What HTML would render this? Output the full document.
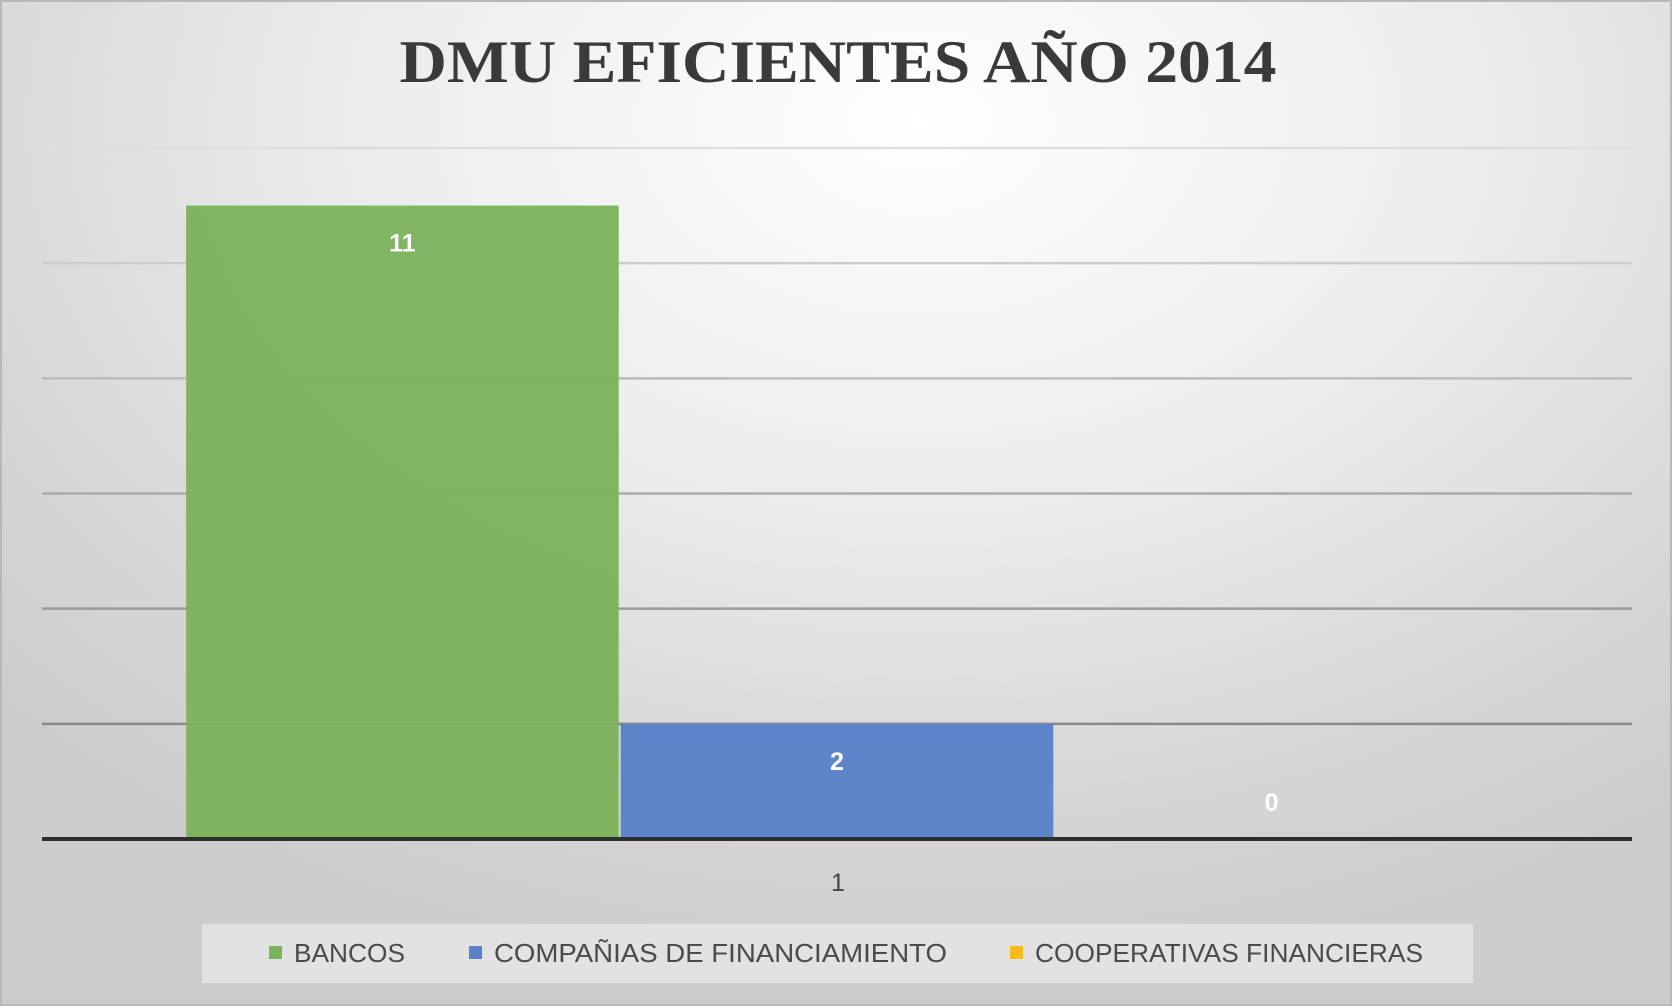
<!DOCTYPE html>
<html><head><meta charset="utf-8"><style>
html,body{margin:0;padding:0;}
body{width:1672px;height:1006px;overflow:hidden;}
#chart{position:absolute;left:0;top:0;width:1672px;height:1006px;box-sizing:border-box;border:2px solid #b8b8b8;
background:radial-gradient(ellipse 75% 85% at 55% 12%, #ffffff 0%, #ececec 45%, #d6d6d6 80%, #cdcdcd 100%);}
svg{position:absolute;left:0;top:0;}
</style></head><body>
<div id="chart">
<svg id="svg" width="1672" height="1006">
<text x="836" y="80" text-anchor="middle" font-family="Liberation Serif, serif" font-weight="bold" font-size="60" fill="#3a3a3a" textLength="877" lengthAdjust="spacingAndGlyphs">DMU EFICIENTES AÑO 2014</text>
<g id="grid"></g>
<g id="bars"></g>
<line x1="40" y1="837" x2="1630" y2="837" stroke="#2e2e2e" stroke-width="4"/>
<text x="836" y="889" text-anchor="middle" font-family="Liberation Sans, sans-serif" font-size="25" fill="#444">1</text>
<rect x="200" y="922" width="1271" height="59" fill="#e2e2e2"/>
<g id="legend"></g>
</svg>
</div>
<script>
const categories = ["1"];
const seriesNames = ["BANCOS","COMPAÑIAS DE FINANCIAMIENTO","COOPERATIVAS FINANCIERAS"];
const seriesValues = [11, 2, 0];
const seriesColors = ["#7db35c","#5a81c8","#f5bd1b"];
const yTicks = [0,2,4,6,8,10,12];

const NS="http://www.w3.org/2000/svg";
const plotL=40, plotR=1630, plotTop=146, plotBot=837, yMax=12;
function y(v){return plotBot-(v/yMax)*(plotBot-plotTop);}
const catW=(plotR-plotL)/categories.length;
const gap=catW*0.09;
const barW=(catW-2*gap)/seriesValues.length;
function x(ci,si){return plotL+ci*catW+gap+si*barW;}
function mk(t,a,p){const e=document.createElementNS(NS,t);for(const k in a)e.setAttribute(k,a[k]);p.appendChild(e);return e;}

const grid=document.getElementById('grid');
yTicks.forEach((t,i)=>{ if(t===0)return;
  const shade=Math.round(120+i*17);
  const l=mk('line',{x1:plotL,x2:plotR,y1:y(t),y2:y(t),stroke:`rgb(${shade},${shade},${shade})`,'stroke-width':2.5},grid);
  
  
});
const bars=document.getElementById('bars');
seriesValues.forEach((v,si)=>{
  const bx=x(0,si);
  const r=mk('rect',{x:bx+1,y:y(v),width:barW-2,height:plotBot-y(v),fill:seriesColors[si],opacity:0.97},bars);
  
  
  const ly = v>=4 ? y(v)+46 : (v>0 ? y(v)+46 : y(v)-28);
  const t=mk('text',{x:bx+barW/2,y:ly,'text-anchor':'middle','font-family':'Liberation Sans, sans-serif','font-weight':'bold','font-size':25,fill:'#ffffff'},bars);
  t.textContent=String(v);
  
  
});
const legend=document.getElementById('legend');
const lx=[267,467,1008];
const lw=[111,453,388];
seriesNames.forEach((n,i)=>{
  const s=mk('rect',{x:lx[i],y:944,width:13,height:13,fill:seriesColors[i]},legend);
  
  
  const t=mk('text',{x:lx[i]+25,y:960,'font-family':'Liberation Sans, sans-serif','font-size':26,fill:'#4a4a4a',textLength:lw[i],lengthAdjust:'spacingAndGlyphs'},legend);
  t.textContent=n;
  
  
});
</script>
</body></html>
